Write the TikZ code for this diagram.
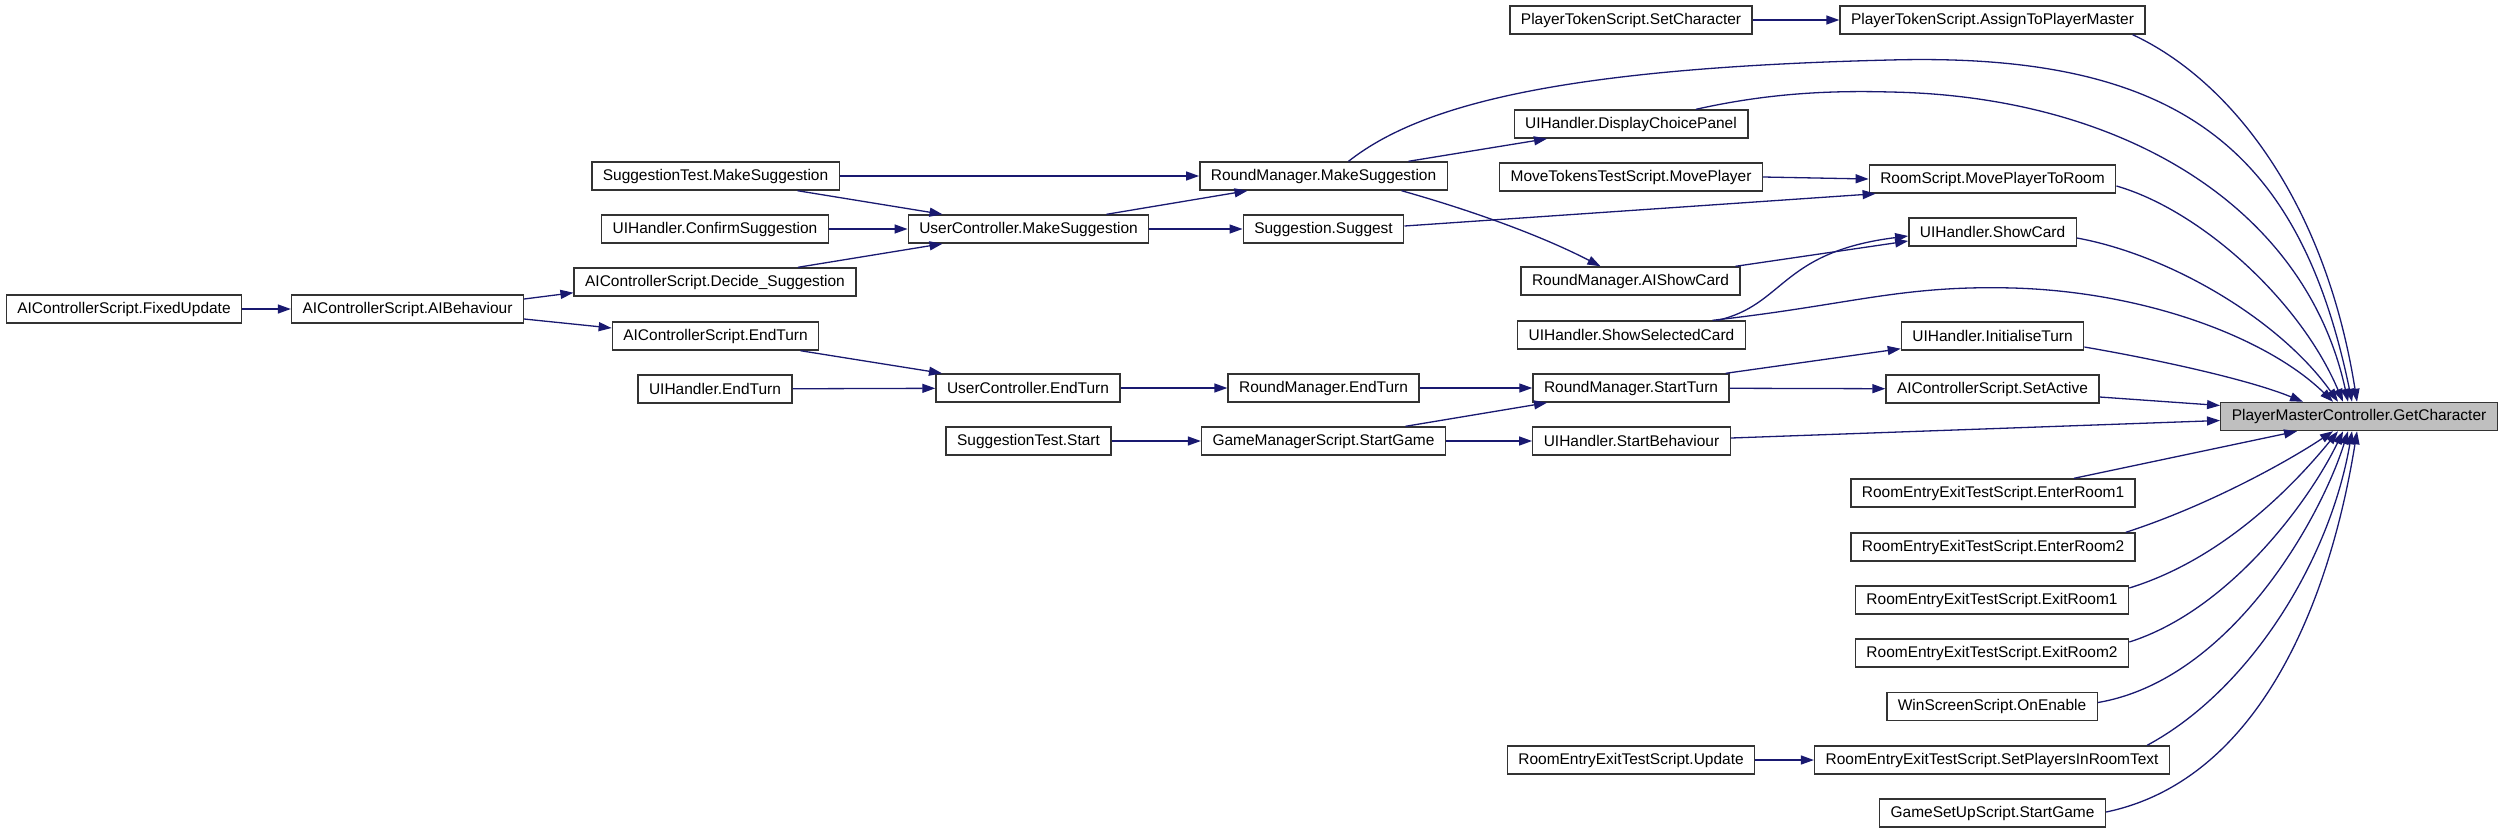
\documentclass[tikz,border=0pt]{standalone}
\usepackage{fontspec}
\setmainfont{Liberation Sans}
\usetikzlibrary{arrows.meta,calc}
\definecolor{edgeblue}{HTML}{191970}
\definecolor{focusgray}{HTML}{BFBFBF}
\tikzset{every picture/.style={line width=0.37pt}}

\begin{document}
\begin{tikzpicture}[x=0.01cm,y=-0.01cm,
    fn/.style={draw=black!80,fill=white,line width=0.4pt,inner xsep=0.11cm,inner ysep=0pt,
      minimum height=0.28cm,font=\fontsize{4.4}{5}\selectfont},
    focus/.style={fn,fill=focusgray},
    call/.style={edgeblue,-{Triangle[length=0.13cm,width=0.09cm]}}]
    \useasboundingbox (0,0) rectangle (2504,833);

    % column 1-2
    \node[fn] (fixedupd) at (124,309) {AIControllerScript.FixedUpdate};
    \node[fn] (aibehav) at (407.5,309) {AIControllerScript.AIBehaviour};

    % column 3
    \node[fn] (stmakesugg) at (715.5,176) {SuggestionTest.MakeSuggestion};
    \node[fn] (confirm) at (715,229) {UIHandler.ConfirmSuggestion};
    \node[fn] (decide) at (715,282) {AIControllerScript.Decide\_Suggestion};
    \node[fn] (aiendturn) at (715.5,336) {AIControllerScript.EndTurn};
    \node[fn] (uiendturn) at (715,389) {UIHandler.EndTurn};

    % column 4
    \node[fn] (ucmakesugg) at (1028.5,229) {UserController.MakeSuggestion};
    \node[fn] (ucendturn) at (1028,388) {UserController.EndTurn};
    \node[fn] (ststart) at (1028.5,441) {SuggestionTest.Start};

    % column 5
    \node[fn] (rmmakesugg) at (1323.5,176) {RoundManager.MakeSuggestion};
    \node[fn] (suggest) at (1323.5,229) {Suggestion.Suggest};
    \node[fn] (rmendturn) at (1323.5,388) {RoundManager.EndTurn};
    \node[fn] (gmstart) at (1323.5,441) {GameManagerScript.StartGame};

    % column 6
    \node[fn] (setchar) at (1631,20) {PlayerTokenScript.SetCharacter};
    \node[fn] (dispchoice) at (1631,124) {UIHandler.DisplayChoicePanel};
    \node[fn] (movetok) at (1631,177) {MoveTokensTestScript.MovePlayer};
    \node[fn] (aishowcard) at (1630.5,281) {RoundManager.AIShowCard};
    \node[fn] (showsel) at (1631.5,335) {UIHandler.ShowSelectedCard};
    \node[fn] (rmstartturn) at (1631,388) {RoundManager.StartTurn};
    \node[fn] (startbeh) at (1631.5,441) {UIHandler.StartBehaviour};
    \node[fn] (reupdate) at (1631,760) {RoomEntryExitTestScript.Update};

    % column 7
    \node[fn] (assign) at (1992.5,20) {PlayerTokenScript.AssignToPlayerMaster};
    \node[fn] (moveroom) at (1992.5,179) {RoomScript.MovePlayerToRoom};
    \node[fn] (showcard) at (1992.5,232) {UIHandler.ShowCard};
    \node[fn] (initturn) at (1992.5,336) {UIHandler.InitialiseTurn};
    \node[fn] (setactive) at (1992.5,389) {AIControllerScript.SetActive};
    \node[fn] (enter1) at (1993,493) {RoomEntryExitTestScript.EnterRoom1};
    \node[fn] (enter2) at (1993,547) {RoomEntryExitTestScript.EnterRoom2};
    \node[fn] (exit1) at (1992,600) {RoomEntryExitTestScript.ExitRoom1};
    \node[fn] (exit2) at (1992,653) {RoomEntryExitTestScript.ExitRoom2};
    \node[fn] (winscreen) at (1992,706.5) {WinScreenScript.OnEnable};
    \node[fn] (setplayers) at (1992,760) {RoomEntryExitTestScript.SetPlayersInRoomText};
    \node[fn] (gsstart) at (1992.5,813) {GameSetUpScript.StartGame};

    % the function itself
    \node[focus] (getchar) at (2359,416.5) {PlayerMasterController.GetCharacter};

    % calls on the left
    \draw[call] (fixedupd) -- (aibehav);
    \draw[call] ($(aibehav.east)+(0,-10)$) -- ($(decide.south west)+(0,-4)$);
    \draw[call] ($(aibehav.east)+(0,10)$) -- ($(aiendturn.west)+(0,-8)$);
    \draw[call] (stmakesugg) -- (rmmakesugg);
    \draw[call] ($(stmakesugg.south)+(82,0)$) -- ($(ucmakesugg.north)+(-86,0)$);
    \draw[call] (confirm) -- (ucmakesugg);
    \draw[call] ($(decide.north)+(83,0)$) -- ($(ucmakesugg.south)+(-86,0)$);
    \draw[call] ($(ucmakesugg.north)+(78,0)$) -- ($(rmmakesugg.south)+(-76,0)$);
    \draw[call] (ucmakesugg) -- (suggest);
    \draw[call] ($(aiendturn.south)+(85,0)$) -- ($(ucendturn.north)+(-86,0)$);
    \draw[call] (uiendturn) -- (ucendturn);
    \draw[call] (ucendturn) -- (rmendturn);
    \draw[call] (rmendturn) -- (rmstartturn);
    \draw[call] (ststart) -- (gmstart);
    \draw[call] ($(gmstart.north)+(82,0)$) -- ($(rmstartturn.south)+(-84,0)$);
    \draw[call] (gmstart) -- (startbeh);

    % calls in the middle
    \draw[call] (setchar) -- (assign);
    \draw[call] ($(rmmakesugg.north)+(85,0)$) -- ($(dispchoice.south)+(-84,0)$);
    \draw[call] ($(rmmakesugg.south)+(78,0)$) .. controls (1470,210) and (1540,235) .. ($(aishowcard.north)+(-30,0)$);
    \draw[call] ($(suggest.east)+(0,-3)$) -- ($(moveroom.south west)+(7,0)$);
    \draw[call] (movetok.east) -- (moveroom.west);
    \draw[call] ($(aishowcard.north)+(105,0)$) -- ($(showcard.west)+(0,9)$);
    \draw[call] ($(showsel.north)+(86,0)$) .. controls (1785,305) and (1780,252) .. ($(showcard.west)+(0,4)$);
    \draw[call] ($(rmstartturn.north east)+(-4,0)$) -- ($(initturn.south west)+(0,-2)$);
    \draw[call] (rmstartturn) -- (setactive);
    \draw[call] (reupdate) -- (setplayers);

    % calls into GetCharacter, from above
    \draw[call] ($(assign.south east)+(-13,0)$) .. controls (2230,80) and (2325,200) .. ($(getchar.north)+(-2,0)$);
    \draw[call] ($(rmmakesugg.north)+(25,0)$) .. controls (1420,105) and (1560,68) .. (1890,60)
        .. controls (2180,52) and (2300,150) .. ($(getchar.north)+(-7,0)$);
    \draw[call] ($(dispchoice.north)+(65,0)$) .. controls (1760,95) and (1820,90) .. (1890,92)
        .. controls (2120,96) and (2305,205) .. ($(getchar.north)+(-11,0)$);
    \draw[call] ($(moveroom.east)+(0,7)$) .. controls (2200,210) and (2300,300) .. ($(getchar.north)+(-16,0)$);
    \draw[call] ($(showcard.east)+(0,6)$) .. controls (2170,255) and (2280,320) .. ($(getchar.north)+(-21,0)$);
    \draw[call] ($(showsel.north)+(81,0)$) .. controls (1850,305) and (1900,285) .. (2013,288)
        .. controls (2150,292) and (2270,340) .. ($(getchar.north)+(-26,0)$);
    \draw[call] ($(initturn.east)+(0,11)$) .. controls (2160,360) and (2250,380) .. ($(getchar.north)+(-56,0)$);

    % from the left
    \draw[call] ($(setactive.east)+(0,8)$) -- ($(getchar.west)+(0,-11)$);
    \draw[call] ($(startbeh.east)+(0,-3)$) -- ($(getchar.west)+(0,4)$);

    % from below
    \draw[call] ($(enter1.north)+(81,0)$) -- ($(getchar.south)+(-62,0)$);
    \draw[call] ($(enter2.north east)+(-10,0)$) .. controls (2210,505) and (2290,460) .. ($(getchar.south)+(-26,0)$);
    \draw[call] ($(exit1.east)+(0,-12)$) .. controls (2220,560) and (2290,490) .. ($(getchar.south)+(-21,0)$);
    \draw[call] ($(exit2.east)+(0,-11)$) .. controls (2230,610) and (2310,500) .. ($(getchar.south)+(-16,0)$);
    \draw[call] ($(winscreen.east)+(0,-4)$) .. controls (2230,680) and (2320,520) .. ($(getchar.south)+(-11,0)$);
    \draw[call] ($(setplayers.north east)+(-23,0)$) .. controls (2250,690) and (2330,560) .. ($(getchar.south)+(-7,0)$);
    \draw[call] ($(gsstart.east)+(0,-1)$) .. controls (2260,780) and (2330,600) .. ($(getchar.south)+(-2,0)$);
\end{tikzpicture}
\end{document}
